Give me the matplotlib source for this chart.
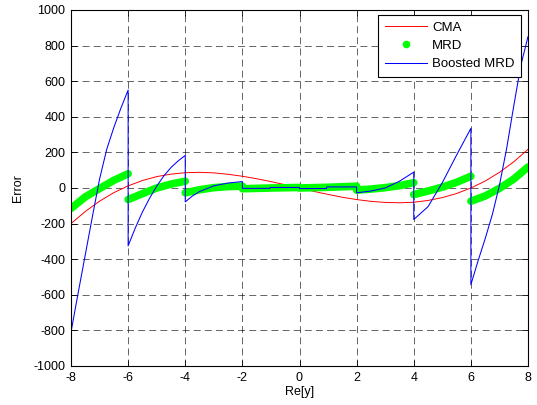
import matplotlib
matplotlib.use('Agg')
import matplotlib.pyplot as plt
from matplotlib.lines import Line2D

plt.rcParams['font.family'] = ['Liberation Sans', 'DejaVu Sans']
plt.rcParams['lines.scale_dashes'] = False
plt.rcParams['axes.unicode_minus'] = False

# CMA error curve (step 0.5)
cma_x = [-8, -7.5, -7, -6.5, -6, -5.5, -5, -4.5, -4, -3.5, -3, -2.5, -2, -1.5, -1, -0.5,
         0, 0.5, 1, 1.5, 2, 2.5, 3, 3.5, 4, 4.5, 5, 5.5, 6, 6.5, 7, 7.5, 8]
cma_y = [-200, -132, -74, -26, 12, 42, 64, 78, 86, 88, 85, 77, 66, 52, 36, 18,
         0, -19, -36, -52, -65, -75, -81, -83, -80, -70, -54, -31, 0, 39, 88, 147, 217]

# MRD error, one piece per interval
mrd_x = [[-8, -7.5, -7, -6.5, -6],
         [-6, -5.5, -5, -4.5, -4],
         [-4, -3.5, -3, -2.5, -2],
         [-2, -1, 0],
         [0, 1, 2],
         [2, 2.5, 3, 3.5, 4],
         [4, 4.5, 5, 5.5, 6],
         [6, 6.5, 7, 7.5, 8]]
mrd_y = [[-115, -50, -3, 43, 80],
         [-65, -32, 0, 22, 38],
         [-27, -10, 2, 8, 11],
         [-4, 0, 3],
         [0, 4, 10],
         [-12, -6, 2, 13, 30],
         [-37, -17, 5, 32, 66],
         [-74, -45, -2, 50, 118]]

# Boosted MRD error (jumps at the interval edges)
boost_x = [-8, -7.75, -7.5, -7.25, -7, -6.75, -6.5, -6.25, -6,
           -6, -5.75, -5.5, -5.25, -5, -4.75, -4.5, -4.25, -4,
           -4, -3.75, -3.5, -3, -2.5, -2,
           -2, -1.03, -1.03, 0,
           0, 0.95, 0.95, 2,
           2, 2.5, 3, 3.5, 4,
           4, 4.5, 5, 5.5, 6,
           6, 6.25, 6.5, 6.75, 7, 7.25, 7.5, 7.75, 8]
boost_y = [-810, -590, -375, -160, 50, 217, 340, 450, 550,
           -325, -225, -135, -58, 10, 68, 115, 152, 183,
           -78, -45, -20, 12, 28, 36,
           -2, -2, 3, 3,
           -3, -3, 6, 6,
           -27, -17, 0, 38, 89,
           -177, -105, 30, 185, 335,
           -543, -410, -285, -150, 15, 220, 460, 690, 850]

plt.figure(figsize=(5.37, 4.05), dpi=100)
ax = plt.axes([71/537, 39/405, 457/537, 356/405])

plt.plot(cma_x, cma_y, color='#ff0000', linewidth=0.7)
for xs, ys in zip(mrd_x, mrd_y):
    plt.plot(xs, ys, color='#00ff00', linewidth=5.5, solid_capstyle='round', solid_joinstyle='round')
plt.plot(boost_x, boost_y, color='#0000ff', linewidth=0.75)

plt.xlim(-8, 8)
plt.ylim(-1000, 1000)
plt.xticks(range(-8, 9, 2), fontsize=9)
plt.yticks(range(-1000, 1001, 200), fontsize=9)
ax.tick_params(direction='in', length=4, width=0.6, top=True, right=True, pad=4, colors='black')
for s in ax.spines.values():
    s.set_linewidth(0.8)
plt.grid(True, color='black', linestyle=(0, (5, 3)), linewidth=0.5, alpha=0.85)
plt.xlabel('Re[y]', fontsize=9, labelpad=1.5)
plt.ylabel('Error', fontsize=9, labelpad=7)

handles = [Line2D([], [], color='#ff0000', linewidth=0.7),
           Line2D([], [], color='#00ff00', linestyle='none', marker='o', markersize=4.5),
           Line2D([], [], color='#0000ff', linewidth=0.75)]
leg = plt.legend(handles, ['CMA', 'MRD', 'Boosted MRD'], loc='upper right',
                 bbox_to_anchor=(0.985, 0.986), fontsize=9.5, fancybox=False,
                 framealpha=1, edgecolor='black', handlelength=3.2, handletextpad=0.4,
                 labelspacing=0.45, borderpad=0.5, borderaxespad=0)
leg.get_frame().set_linewidth(0.8)

plt.savefig('out.png', dpi=100)
